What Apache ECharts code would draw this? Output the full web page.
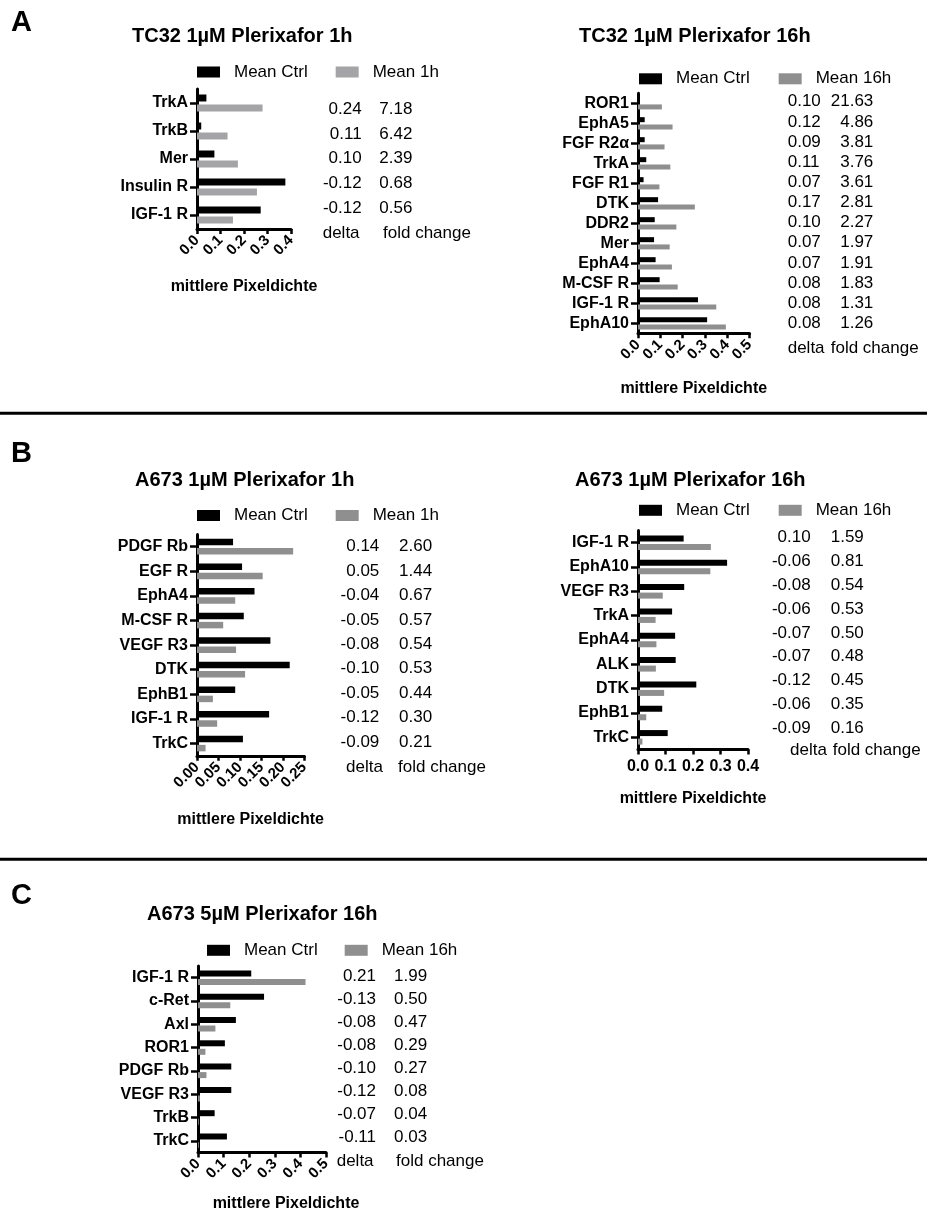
<!DOCTYPE html>
<html>
<head>
<meta charset="utf-8">
<script src="https://cdn.jsdelivr.net/npm/echarts@6/dist/echarts.min.js"></script>
<style>html,body{margin:0;padding:0;background:#fff;}#c{width:927px;height:1214px;}</style>
</head>
<body>
<div id="c"></div>
<script>
// ---------------- DATA ----------------
const a1Categories = ['TrkA', 'TrkB', 'Mer', 'Insulin R', 'IGF-1 R'];
const a1Ctrl  = [0.040, 0.018, 0.074, 0.376, 0.271];
const a1Treat = [0.279, 0.130, 0.174, 0.255, 0.153];
const a1Delta = ['0.24', '0.11', '0.10', '-0.12', '-0.12'];
const a1Fold  = ['7.18', '6.42', '2.39', '0.68', '0.56'];

const a2Categories = ['ROR1', 'EphA5', 'FGF R2α', 'TrkA', 'FGF R1', 'DTK', 'DDR2', 'Mer', 'EphA4', 'M-CSF R', 'IGF-1 R', 'EphA10'];
const a2Ctrl  = [0.005, 0.030, 0.030, 0.037, 0.025, 0.090, 0.075, 0.072, 0.079, 0.097, 0.269, 0.310];
const a2Treat = [0.107, 0.155, 0.119, 0.145, 0.096, 0.255, 0.172, 0.142, 0.152, 0.178, 0.351, 0.394];
const a2Delta = ['0.10', '0.12', '0.09', '0.11', '0.07', '0.17', '0.10', '0.07', '0.07', '0.08', '0.08', '0.08'];
const a2Fold  = ['21.63', '4.86', '3.81', '3.76', '3.61', '2.81', '2.27', '1.97', '1.91', '1.83', '1.31', '1.26'];

const b1Categories = ['PDGF Rb', 'EGF R', 'EphA4', 'M-CSF R', 'VEGF R3', 'DTK', 'EphB1', 'IGF-1 R', 'TrkC'];
const b1Ctrl  = [0.084, 0.105, 0.134, 0.109, 0.171, 0.216, 0.089, 0.168, 0.107];
const b1Treat = [0.224, 0.153, 0.089, 0.061, 0.091, 0.112, 0.037, 0.047, 0.020];
const b1Delta = ['0.14', '0.05', '-0.04', '-0.05', '-0.08', '-0.10', '-0.05', '-0.12', '-0.09'];
const b1Fold  = ['2.60', '1.44', '0.67', '0.57', '0.54', '0.53', '0.44', '0.30', '0.21'];

const b2Categories = ['IGF-1 R', 'EphA10', 'VEGF R3', 'TrkA', 'EphA4', 'ALK', 'DTK', 'EphB1', 'TrkC'];
const b2Ctrl  = [0.166, 0.324, 0.168, 0.124, 0.135, 0.137, 0.212, 0.088, 0.108];
const b2Treat = [0.265, 0.263, 0.090, 0.064, 0.067, 0.065, 0.095, 0.030, 0.016];
const b2Delta = ['0.10', '-0.06', '-0.08', '-0.06', '-0.07', '-0.07', '-0.12', '-0.06', '-0.09'];
const b2Fold  = ['1.59', '0.81', '0.54', '0.53', '0.50', '0.48', '0.45', '0.35', '0.16'];

const cCategories = ['IGF-1 R', 'c-Ret', 'Axl', 'ROR1', 'PDGF Rb', 'VEGF R3', 'TrkB', 'TrkC'];
const cCtrl  = [0.208, 0.258, 0.148, 0.105, 0.130, 0.130, 0.065, 0.113];
const cTreat = [0.420, 0.126, 0.068, 0.029, 0.033, 0.007, 0.003, 0.003];
const cDelta = ['0.21', '-0.13', '-0.08', '-0.08', '-0.10', '-0.12', '-0.07', '-0.11'];
const cFold  = ['1.99', '0.50', '0.47', '0.29', '0.27', '0.08', '0.04', '0.03'];

const titles = ['TC32 1µM Plerixafor 1h', 'TC32 1µM Plerixafor 16h', 'A673 1µM Plerixafor 1h', 'A673 1µM Plerixafor 16h', 'A673 5µM Plerixafor 16h'];
const ctrlName = 'Mean Ctrl';
const treatNames = ['Mean 1h', 'Mean 16h', 'Mean 1h', 'Mean 16h', 'Mean 16h'];
const axisName = 'mittlere Pixeldichte';
const tableHeader = ['delta', 'fold change'];
const panelLetters = ['A', 'B', 'C'];

// ---------------- LAYOUT / STYLE ----------------
const FONT = '"Liberation Sans", Arial, Helvetica, sans-serif';
const BLACK = '#000000';
const GRAY_LIGHT = '#a4a4a7';
const GRAY = '#8f8f8f';

const panels = [
  { cats: a1Categories, ctrl: a1Ctrl, treat: a1Treat, delta: a1Delta, fold: a1Fold,
    grid: { left: 197, top: 89, width: 94, height: 140 }, max: 0.4, interval: 0.1, dec: 1, rotate: 45,
    barW: 7, gap: '43%', gray: GRAY_LIGHT, nameGap: 50, namePad: 0,
    legend: { left: 197, cy: 72, gap: 28 }, title: { left: 132, top: 26 },
    table: { y0: 109.3, dy: 24.75, deltaX: 361.7, deltaAlign: 'right', foldX: 379.3, foldAlign: 'left',
             hy: 233.3, hDeltaX: 322.7, hFoldX: 383 } },
  { cats: a2Categories, ctrl: a2Ctrl, treat: a2Treat, delta: a2Delta, fold: a2Fold,
    grid: { left: 638, top: 93.3, width: 111.5, height: 240 }, max: 0.5, interval: 0.1, dec: 1, rotate: 45,
    barW: 5, gap: '45%', gray: GRAY, nameGap: 47, namePad: 0,
    legend: { left: 639, cy: 78.8, gap: 29 }, title: { left: 579, top: 26 },
    table: { y0: 101.7, dy: 20.15, deltaX: 787.7, deltaAlign: 'left', foldX: 873.3, foldAlign: 'right',
             hy: 348.3, hDeltaX: 787.7, hFoldX: 830.7 } },
  { cats: b1Categories, ctrl: b1Ctrl, treat: b1Treat, delta: b1Delta, fold: b1Fold,
    grid: { left: 197, top: 534.4, width: 107.3, height: 221.4 }, max: 0.25, interval: 0.05, dec: 2, rotate: 45,
    barW: 6.5, gap: '42%', gray: GRAY, nameGap: 56, namePad: 0,
    legend: { left: 197, cy: 515.5, gap: 28 }, title: { left: 135, top: 470 },
    table: { y0: 546.7, dy: 24.4, deltaX: 379.3, deltaAlign: 'right', foldX: 399, foldAlign: 'left',
             hy: 767.3, hDeltaX: 346, hFoldX: 398 } },
  { cats: b2Categories, ctrl: b2Ctrl, treat: b2Treat, delta: b2Delta, fold: b2Fold,
    grid: { left: 638, top: 530.5, width: 110, height: 219 }, max: 0.4, interval: 0.1, dec: 1, rotate: 0,
    barW: 6, gap: '42%', gray: GRAY, nameGap: 41, namePad: 0,
    legend: { left: 639, cy: 510.3, gap: 29 }, title: { left: 575, top: 470 },
    table: { y0: 537.7, dy: 23.8, deltaX: 810.7, deltaAlign: 'right', foldX: 830.7, foldAlign: 'left',
             hy: 750, hDeltaX: 790, hFoldX: 832.7 } },
  { cats: cCategories, ctrl: cCtrl, treat: cTreat, delta: cDelta, fold: cFold,
    grid: { left: 198, top: 966, width: 128, height: 186.4 }, max: 0.5, interval: 0.1, dec: 1, rotate: 45,
    barW: 6, gap: '42%', gray: GRAY, nameGap: 43, namePad: 48,
    legend: { left: 207, cy: 950.3, gap: 27 }, title: { left: 147, top: 904 },
    table: { y0: 976.7, dy: 22.9, deltaX: 376, deltaAlign: 'right', foldX: 394, foldAlign: 'left',
             hy: 1161.7, hDeltaX: 336.7, hFoldX: 396 } }
];

// ---------------- BUILD OPTION ----------------
const grid = [], xAxis = [], yAxis = [], series = [], legend = [], title = [], graphic = [];

panels.forEach((p, i) => {
  grid.push(Object.assign({ containLabel: false }, p.grid));
  xAxis.push({
    type: 'value', gridIndex: i, min: 0, max: p.max, interval: p.interval,
    name: axisName, nameLocation: 'middle', nameGap: p.nameGap,
    nameTextStyle: { fontFamily: FONT, fontSize: 16, fontWeight: 'bold', color: BLACK,
                     padding: [0, 0, 0, p.namePad] },
    axisLine: { show: true, lineStyle: { color: BLACK, width: 3 } },
    axisTick: { show: true, length: 5, inside: false, lineStyle: { color: BLACK, width: 2.5 } },
    axisLabel: { fontFamily: FONT, fontSize: p.rotate ? 15 : 16, fontWeight: 'bold', color: BLACK,
                 rotate: p.rotate, margin: p.rotate ? 9 : 9, showMinLabel: true, showMaxLabel: true,
                 hideOverlap: false, formatter: v => v.toFixed(p.dec) },
    splitLine: { show: false }
  });
  yAxis.push({
    type: 'category', gridIndex: i, data: p.cats, inverse: true,
    axisLine: { show: true, lineStyle: { color: BLACK, width: 3 } },
    axisTick: { show: true, alignWithLabel: true, length: 7, lineStyle: { color: BLACK, width: 2.5 } },
    axisLabel: { fontFamily: FONT, fontSize: 16, fontWeight: 'bold', color: BLACK, margin: 9, interval: 0 },
    splitLine: { show: false }
  });
  series.push({
    type: 'bar', name: ctrlName, xAxisIndex: i, yAxisIndex: i, data: p.ctrl,
    barWidth: p.barW, barGap: p.gap, itemStyle: { color: BLACK }, silent: true, animation: false
  });
  series.push({
    type: 'bar', name: treatNames[i], xAxisIndex: i, yAxisIndex: i, data: p.treat,
    barWidth: p.barW, barGap: p.gap, itemStyle: { color: p.gray }, silent: true, animation: false
  });
  legend.push({
    left: p.legend.left, top: p.legend.cy - 10, orient: 'horizontal', padding: 0,
    itemWidth: 23, itemHeight: 11, itemGap: p.legend.gap, selectedMode: false, icon: 'rect',
    textStyle: { fontFamily: FONT, fontSize: 17, color: BLACK, lineHeight: 20, padding: [0, 0, 0, 9] },
    data: [{ name: ctrlName, itemStyle: { color: BLACK } },
           { name: treatNames[i], itemStyle: { color: p.gray } }]
  });
  title.push({
    text: titles[i], left: p.title.left, top: p.title.top, padding: 0,
    textStyle: { fontFamily: FONT, fontSize: 20, fontWeight: 'bold', color: BLACK }
  });
  const t = p.table;
  p.delta.forEach((d, k) => {
    const y = t.y0 + k * t.dy;
    graphic.push({ type: 'text', x: t.deltaX, y: y, silent: true,
      style: { text: d, fontFamily: FONT, fontSize: 17, fill: BLACK, align: t.deltaAlign, verticalAlign: 'middle' } });
    graphic.push({ type: 'text', x: t.foldX, y: y, silent: true,
      style: { text: p.fold[k], fontFamily: FONT, fontSize: 17, fill: BLACK, align: t.foldAlign, verticalAlign: 'middle' } });
  });
  graphic.push({ type: 'text', x: t.hDeltaX, y: t.hy, silent: true,
    style: { text: tableHeader[0], fontFamily: FONT, fontSize: 17, fill: BLACK, align: 'left', verticalAlign: 'middle' } });
  graphic.push({ type: 'text', x: t.hFoldX, y: t.hy, silent: true,
    style: { text: tableHeader[1], fontFamily: FONT, fontSize: 17, fill: BLACK, align: 'left', verticalAlign: 'middle' } });
});

// separators and panel letters
[413.3, 859.3].forEach(y => {
  graphic.push({ type: 'line', silent: true, shape: { x1: 0, y1: y, x2: 927, y2: y },
    style: { stroke: BLACK, lineWidth: 3 } });
});
[22.5, 453.5, 896].forEach((y, k) => {
  graphic.push({ type: 'text', x: 11, y: y, silent: true,
    style: { text: panelLetters[k], fontFamily: FONT, fontSize: 29, fontWeight: 'bold', fill: BLACK,
             align: 'left', verticalAlign: 'middle' } });
});

const chart = echarts.init(document.getElementById('c'), null, { renderer: 'canvas' });
chart.setOption({
  animation: false,
  backgroundColor: '#ffffff',
  title, legend, grid, xAxis, yAxis, series, graphic,
  tooltip: { show: false }
});
</script>
</body>
</html>
